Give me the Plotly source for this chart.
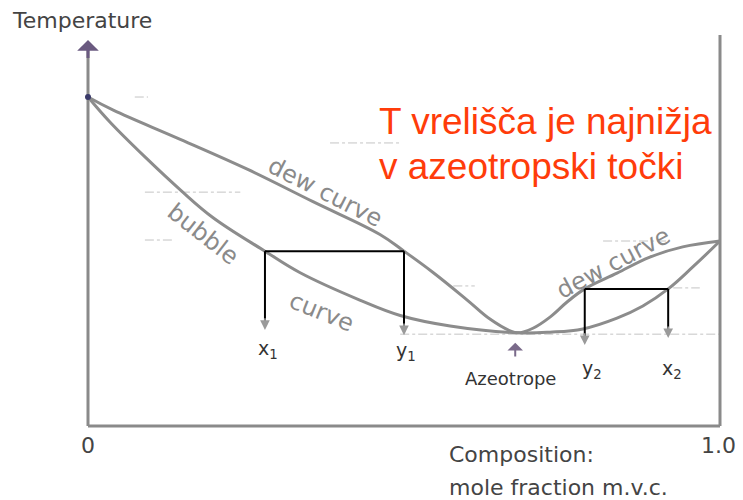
import plotly.graph_objects as go

# Composition (mole fraction of the more volatile component) and temperature
# (arbitrary units) along the two phase boundaries of a minimum-boiling azeotrope.
dew_x = [0.0, 0.040, 0.146, 0.252, 0.356, 0.462, 0.500, 0.546, 0.600, 0.636, 0.668, 0.680,
         0.704, 0.731, 0.758, 0.786, 0.837, 0.889, 0.941, 1.0]
dew_T = [100.3, 96.3, 87.4, 78.3, 68.4, 58.4, 53.3, 46.8, 38.4, 32.6, 29.0, 28.4,
         29.8, 33.2, 37.8, 41.8, 46.6, 51.5, 54.6, 56.4]

bubble_x = [0.0, 0.035, 0.093, 0.146, 0.198, 0.280, 0.335, 0.430, 0.494, 0.573, 0.680,
            0.731, 0.783, 0.837, 0.878, 0.918, 0.957, 1.0]
bubble_T = [100.3, 92.6, 81.5, 72.0, 63.5, 53.3, 46.8, 38.4, 33.7, 30.5, 28.4,
            28.6, 29.6, 32.9, 36.6, 41.8, 48.5, 56.4]

# Tie lines: (liquid x, vapour y, temperature, arrow tip temperatures)
tie1 = {"x": 0.280, "y": 0.500, "T": 53.3, "tip_x": 29.3, "tip_y": 27.7}
tie2 = {"x": 0.918, "y": 0.786, "T": 41.8, "tip_x": 26.8, "tip_y": 24.7}

azeo_x, azeo_T = 0.680, 28.4

# faint horizontal guide levels (segments given as x-start, x-end, T)
guides = [(0.074, 0.095, 100.3), (0.383, 0.494, 86.3), (0.090, 0.241, 71.3),
          (0.090, 0.134, 56.7), (0.578, 0.612, 42.7), (0.494, 1.0, 28.0),
          (0.815, 0.916, 56.4), (0.926, 0.968, 42.1)]

T_top = 117.7
T_right_top = 119.2

CURVE = "#8c8c8c"
AXIS = "#8a8a8a"
TEXT = "#333333"
HAND = "#8a8a8a"
RED = "#ff3c0a"

fig = go.Figure()

for x0, x1, t in guides:
    fig.add_trace(go.Scatter(x=[x0, x1], y=[t, t], mode="lines",
                             line=dict(color="#c4c4c4", width=1, dash="dashdot"),
                             hoverinfo="skip", showlegend=False))

# axes frame
fig.add_trace(go.Scatter(x=[0, 1.0], y=[0, 0], mode="lines",
                         line=dict(color=AXIS, width=3), showlegend=False, hoverinfo="skip"))
fig.add_trace(go.Scatter(x=[0, 0], y=[0, T_top - 3], mode="lines",
                         line=dict(color=AXIS, width=3), showlegend=False, hoverinfo="skip"))
fig.add_trace(go.Scatter(x=[1.0, 1.0], y=[0, T_right_top], mode="lines",
                         line=dict(color=AXIS, width=3), showlegend=False, hoverinfo="skip"))

# phase boundaries
fig.add_trace(go.Scatter(x=dew_x, y=dew_T, mode="lines",
                         line=dict(color=CURVE, width=3, shape="spline", smoothing=1.1),
                         showlegend=False, hoverinfo="skip"))
fig.add_trace(go.Scatter(x=bubble_x, y=bubble_T, mode="lines",
                         line=dict(color=CURVE, width=3, shape="spline", smoothing=1.1),
                         showlegend=False, hoverinfo="skip"))

# tie lines with drop lines to the composition axis
for tie in (tie1, tie2):
    fig.add_trace(go.Scatter(x=[tie["x"], tie["y"]], y=[tie["T"], tie["T"]], mode="lines",
                             line=dict(color="black", width=2), showlegend=False,
                             hoverinfo="skip"))
    for key, tip in (("x", "tip_x"), ("y", "tip_y")):
        fig.add_trace(go.Scatter(x=[tie[key], tie[key]], y=[tie["T"], tie[tip] + 2],
                                 mode="lines", line=dict(color="black", width=2),
                                 showlegend=False, hoverinfo="skip"))

fig.add_trace(go.Scatter(x=[0], y=[dew_T[0]], mode="markers",
                         marker=dict(color="#3a3a6a", size=6), showlegend=False,
                         hoverinfo="skip"))

annotations = []

# arrowhead on the temperature axis
annotations.append(dict(x=0, y=T_top, ax=0, ay=T_top - 6, xref="x", yref="y", axref="x",
                        ayref="y", showarrow=True, arrowhead=1, arrowsize=1.2, arrowwidth=3,
                        arrowcolor="#6a5a80", text=""))

# arrowheads of the drop lines
for tie in (tie1, tie2):
    for key, tip in (("x", "tip_x"), ("y", "tip_y")):
        annotations.append(dict(x=tie[key], y=tie[tip], ax=tie[key], ay=tie[tip] + 4,
                                xref="x", yref="y", axref="x", ayref="y", showarrow=True,
                                arrowhead=2, arrowsize=1.2, arrowwidth=1.6,
                                arrowcolor="#9a9a9a", text=""))

# azeotrope pointer
annotations.append(dict(x=azeo_x - 0.004, y=azeo_T - 3.0, ax=azeo_x - 0.004, ay=azeo_T - 7.7,
                        xref="x", yref="y", axref="x", ayref="y", showarrow=True,
                        arrowhead=1, arrowsize=1.3, arrowwidth=2, arrowcolor="#7a6a8a",
                        text=""))

lab_font = dict(family="DejaVu Sans", size=19, color=TEXT)
annotations += [
    dict(x=tie1["x"] + 0.005, y=23.2, text="x<sub>1</sub>", showarrow=False, font=lab_font),
    dict(x=tie1["y"] + 0.003, y=22.6, text="y<sub>1</sub>", showarrow=False, font=lab_font),
    dict(x=tie2["y"] + 0.012, y=17.1, text="y<sub>2</sub>", showarrow=False, font=lab_font),
    dict(x=tie2["x"] + 0.006, y=17.1, text="x<sub>2</sub>", showarrow=False, font=lab_font),
    dict(x=azeo_x - 0.012, y=14.6, text="Azeotrope", showarrow=False,
         font=dict(family="DejaVu Sans", size=18, color=TEXT)),
]

ax_font = dict(family="DejaVu Sans", size=22, color="#444444")
annotations += [
    dict(x=0, y=-5.8, text="0", showarrow=False, font=ax_font),
    dict(x=0.997, y=-5.8, text="1.0", showarrow=False, font=ax_font),
    dict(x=0.568, y=-8.8, text="Composition:", showarrow=False, xanchor="left", font=ax_font),
    dict(x=0.568, y=-18.9, text="mole fraction m.v.c.", showarrow=False, xanchor="left",
         font=ax_font),
    dict(x=10 / 743, y=1 - 6 / 500, xref="paper", yref="paper", text="Temperature",
         showarrow=False, xanchor="left", yanchor="top", font=ax_font),
]

hand_font = dict(family="DejaVu Sans", size=24, color=HAND)
annotations += [
    dict(x=0.375, y=71.3, text="dew curve", textangle=27, showarrow=False, font=hand_font),
    dict(x=0.182, y=58.5, text="bubble", textangle=38, showarrow=False, font=hand_font),
    dict(x=0.370, y=34.8, text="curve", textangle=22, showarrow=False, font=hand_font),
    dict(x=0.831, y=49.7, text="dew curve", textangle=-28, showarrow=False, font=hand_font),
]

red_font = dict(family="Liberation Sans", size=37, color=RED)
annotations += [
    dict(x=0.457, y=92.7, text="T vrelišča je najnižja", showarrow=False, xanchor="left",
         font=red_font),
    dict(x=0.457, y=79.0, text="v azeotropski točki", showarrow=False, xanchor="left",
         font=red_font),
]

for a in annotations:
    a.setdefault("xref", "x")
    a.setdefault("yref", "y")

fig.update_layout(
    width=743, height=500,
    margin=dict(l=0, r=0, t=0, b=0),
    paper_bgcolor="white", plot_bgcolor="white",
    xaxis=dict(range=[-88 / 632, 655 / 632], visible=False, fixedrange=True),
    yaxis=dict(range=[-74 / 3.28, 426 / 3.28], visible=False, fixedrange=True),
    annotations=annotations,
    showlegend=False,
)

fig.write_html("out.html")
